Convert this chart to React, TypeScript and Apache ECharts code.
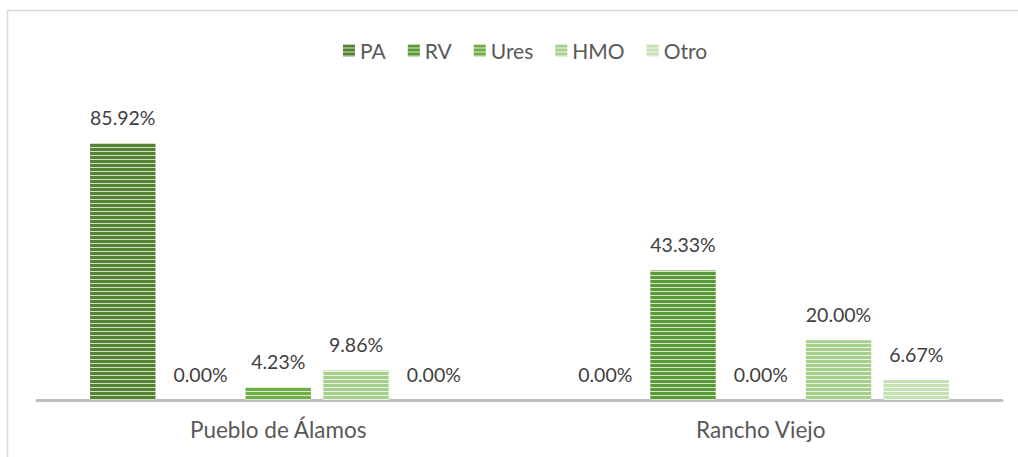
import React, { useEffect, useRef } from "react";
import * as echarts from "echarts";

const categories = ["Pueblo de Álamos", "Rancho Viejo"];
const seriesNames = ["PA", "RV", "Ures", "HMO", "Otro"];
const valuesPA = [85.92, 0];
const valuesRV = [0, 43.33];
const valuesUres = [4.23, 0];
const valuesHMO = [9.86, 20.0];
const valuesOtro = [0, 6.67];

const stripeColors = ["#538135", "#5b9a38", "#70ad47", "#a8d08d", "#c5e0b3"];
const fillColors = ["#cfe1c1", "#d3e6c6", "#d9ecce", "#eaf3e3", "#f1f8ed"];

export default function App() {
  const ref = useRef<HTMLDivElement>(null);
  useEffect(() => {
    document.body.style.margin = "0";
    const chart = echarts.init(ref.current!, null, { renderer: "svg" });
    const all = [valuesPA, valuesRV, valuesUres, valuesHMO, valuesOtro];
    const font = "Lato, 'Open Sans', sans-serif";
    chart.setOption({
      animation: false,
      graphic: [
        {
          type: "rect",
          shape: { x: 7.5, y: 10.5, width: 1100, height: 500 },
          style: { fill: "none", stroke: "#d9d9d9", lineWidth: 1.5 },
          silent: true,
        },
      ],
      legend: {
        top: 35,
        left: 338,
        icon: "rect",
        itemWidth: 12,
        itemHeight: 12,
        itemGap: 22,
        textStyle: { fontFamily: font, fontSize: 21, color: "#595959" },
        data: seriesNames,
      },
      grid: { left: 37, right: 16, top: 101, bottom: 57 },
      xAxis: {
        type: "category",
        data: categories,
        axisLine: { lineStyle: { color: "#bfbfbf", width: 3 } },
        axisTick: { show: false },
        axisLabel: { fontFamily: font, fontSize: 22.5, color: "#595959", margin: 18 },
      },
      yAxis: {
        type: "value",
        min: 0,
        max: 100,
        show: false,
        splitLine: { show: false },
      },
      series: seriesNames.map((name, i) => ({
        name,
        type: "bar",
        data: all[i],
        barGap: "19%",
        barCategoryGap: "22%",
        itemStyle: {
          color: fillColors[i],
          decal: {
            symbol: "rect",
            symbolSize: 1,
            dashArrayX: [1, 0],
            dashArrayY: [3, 1],
            rotation: 0,
            color: stripeColors[i],
          },
        },
        label: {
          show: true,
          position: "top",
          distance: 16,
          fontFamily: font,
          fontSize: 19.5,
          color: "#404040",
          formatter: (p: any) => p.value.toFixed(2) + "%",
        },
      })),
    });
    return () => chart.dispose();
  }, []);
  return <div ref={ref} style={{ width: 1018, height: 457 }} />;
}
